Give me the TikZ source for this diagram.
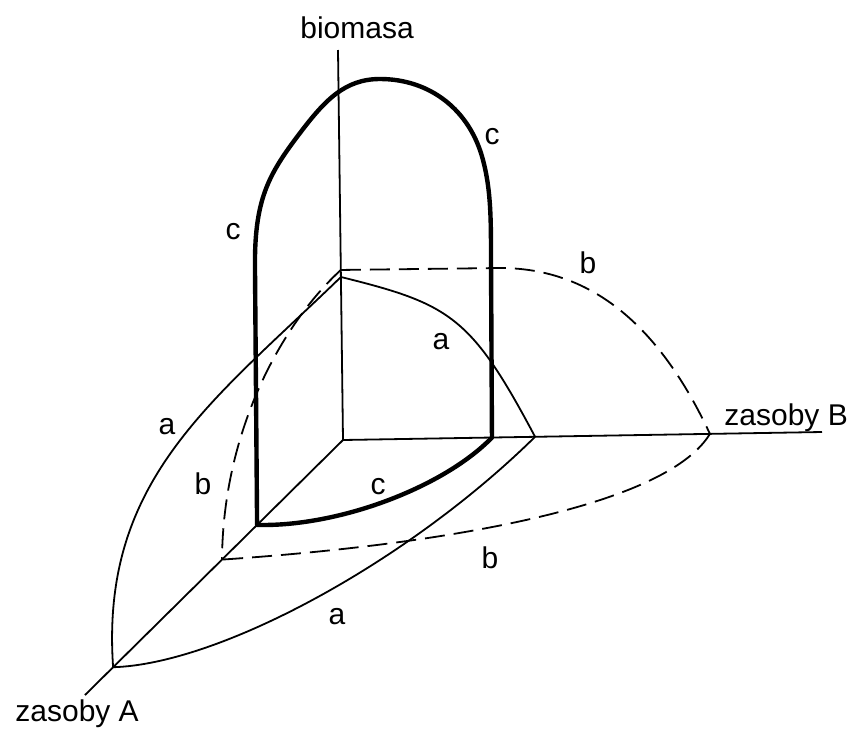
\documentclass[tikz,border=0pt]{standalone}
\usepackage{fontspec}
\setmainfont{Liberation Sans}
\usetikzlibrary{calc}
\begin{document}
\begin{tikzpicture}[x=0.5pt, y=-0.5pt,
    axis/.style={draw=black, line width=0.9pt},
    curvea/.style={draw=black, line width=0.9pt},
    curveb/.style={draw=black, line width=0.9pt, dash pattern=on 10pt off 4.5pt},
    curvec/.style={draw=black, line width=2.2pt, line join=round},
    lbl/.style={font=\fontsize{15}{18}\selectfont, inner sep=0pt}]
  \useasboundingbox (0,0) rectangle (852,729);
  % axes
  \coordinate (O) at (343,440);
  \coordinate (Ztop) at (338,50);
  \coordinate (Bend) at (822,432);
  \coordinate (Aend) at (85,695);
  \coordinate (Za) at ($(O)!0.418!(Ztop)$);
  \coordinate (Zb) at ($(O)!0.436!(Ztop)$);
  \coordinate (Ba) at ($(O)!0.401!(Bend)$);
  \coordinate (Bb) at ($(O)!0.766!(Bend)$);
  \coordinate (Bc) at ($(O)!0.311!(Bend)$);
  \coordinate (Aa) at ($(O)!0.891!(Aend)$);
  \coordinate (Ab) at ($(O)!0.469!(Aend)$);
  \coordinate (Ac) at ($(O)!0.333!(Aend)$);
  \draw[axis] (O) -- (Ztop);
  \draw[axis] (O) -- (Bend);
  \draw[axis] (O) -- (Aend);
  % a
  \draw[curvea] (Za) .. controls (450,304) and (471,316) .. (Ba);
  \draw[curvea] (Za) .. controls (212,402) and (100,480) .. (Aa);
  \draw[curvea] (Ba) .. controls (408,562) and (220,664) .. (Aa);
  % b
  \draw[curveb] (Zb) -- (500,268) .. controls (582,268) and (654,314) .. (Bb);
  \draw[curveb] (Zb) .. controls (282,324) and (223,430) .. (Ab);
  \draw[curveb] (Bb) .. controls (668,503) and (465,543) .. (Ab);
  % c
  \draw[curvec] (Ac) -- (255,270) .. controls (254,200) and (268,175) .. (300,133)
    .. controls (325,100) and (345,79) .. (380,79)
    .. controls (430,79) and (470,110) .. (483,160)
    .. controls (491,190) and (491,220) .. (491,260) -- (Bc)
    .. controls (444,487) and (339,527) .. (Ac) -- cycle;
  % labels
  \node[lbl, anchor=base west] (biomasa) at (300,38) {biomasa};
  \node[lbl, anchor=base west] (zasobyB) at (724,425) {zasoby B};
  \node[lbl, anchor=base west] (zasobyA) at (15,721) {zasoby A};
  \node[lbl] (c1) at (492,137) {c};
  \node[lbl] (c2) at (233,232) {c};
  \node[lbl] (c3) at (378,487) {c};
  \node[lbl] (b1) at (588,263) {b};
  \node[lbl] (b2) at (203,484) {b};
  \node[lbl] (b3) at (490,558) {b};
  \node[lbl] (a1) at (441,342) {a};
  \node[lbl] (a2) at (167,427) {a};
  \node[lbl] (a3) at (337,617) {a};
\end{tikzpicture}
\end{document}
